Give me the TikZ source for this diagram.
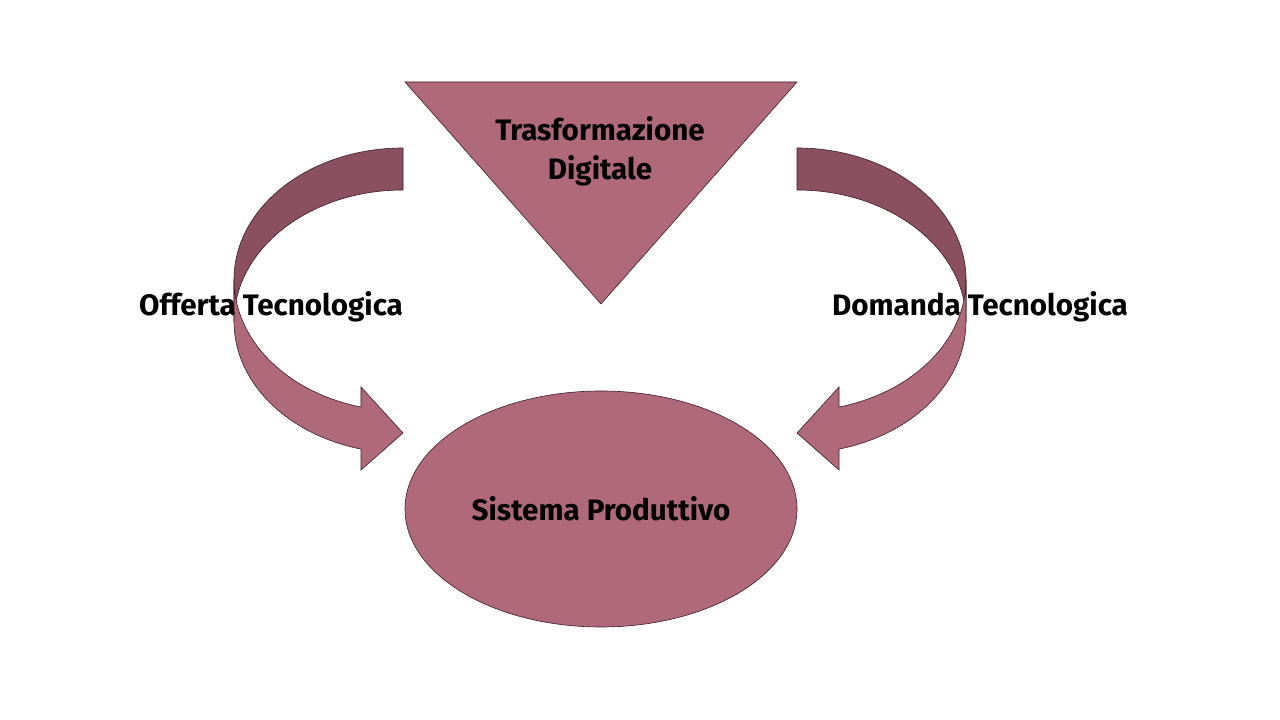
\documentclass[tikz,border=0pt]{standalone}
\usepackage{fontspec}
\setmainfont{Fira Sans}
\usetikzlibrary{shapes.geometric}
\definecolor{lightmauve}{RGB}{176,105,120}
\definecolor{darkmauve}{RGB}{138,80,96}
\definecolor{edgecol}{RGB}{60,30,40}
\begin{document}
\begin{tikzpicture}[x=1pt,y=1pt,
  shapefill/.style={fill=lightmauve,draw=edgecol,line width=0.6pt},
  backfill/.style={fill=darkmauve,draw=edgecol,line width=0.6pt},
  lbl/.style={font=\fontsize{29.6}{39}\selectfont\bfseries,text=black,align=center,inner sep=0pt}]
\useasboundingbox (0,0) rectangle (1280,720);
% triangle
\coordinate (t1) at (405,638);
\coordinate (t2) at (797,638);
\coordinate (t3) at (601,416);
\draw[shapefill] (t1) -- (t2) -- (t3) -- cycle;
% ellipse
\node[ellipse,shapefill,minimum width=392pt,minimum height=236pt,inner sep=0pt] (sp) at (601,211) {};
% left curved arrow (back band)
\draw[backfill] (403,572) arc[start angle=90,end angle=180,x radius=169pt,y radius=131.6pt]
  -- (234,398.4) arc[start angle=180,end angle=90,x radius=169pt,y radius=131.6pt] -- cycle;
% left curved arrow (front band)
\draw[shapefill] (234,440.4) arc[start angle=180,end angle=255.6,x radius=169pt,y radius=131.6pt]
  -- (361,333) -- (403,287) -- (361,250) -- (361,270.9)
  arc[start angle=255.6,end angle=180,x radius=169pt,y radius=131.6pt] -- cycle;
% right curved arrow (back band)
\draw[backfill] (797,572) arc[start angle=90,end angle=0,x radius=169pt,y radius=131.6pt]
  -- (966,398.4) arc[start angle=0,end angle=90,x radius=169pt,y radius=131.6pt] -- cycle;
% right curved arrow (front band)
\draw[shapefill] (966,440.4) arc[start angle=0,end angle=-75.6,x radius=169pt,y radius=131.6pt]
  -- (839,333) -- (797,287) -- (839,250) -- (839,270.9)
  arc[start angle=-75.6,end angle=0,x radius=169pt,y radius=131.6pt] -- cycle;
% labels
\node[lbl] (td) at (600,569) {Trasformazione\\Digitale};
\node[lbl] (of) at (271,413) {Offerta Tecnologica};
\node[lbl] (dt) at (980,413) {Domanda Tecnologica};
\node[lbl] at (sp.center) {Sistema Produttivo};
\end{tikzpicture}
\end{document}
